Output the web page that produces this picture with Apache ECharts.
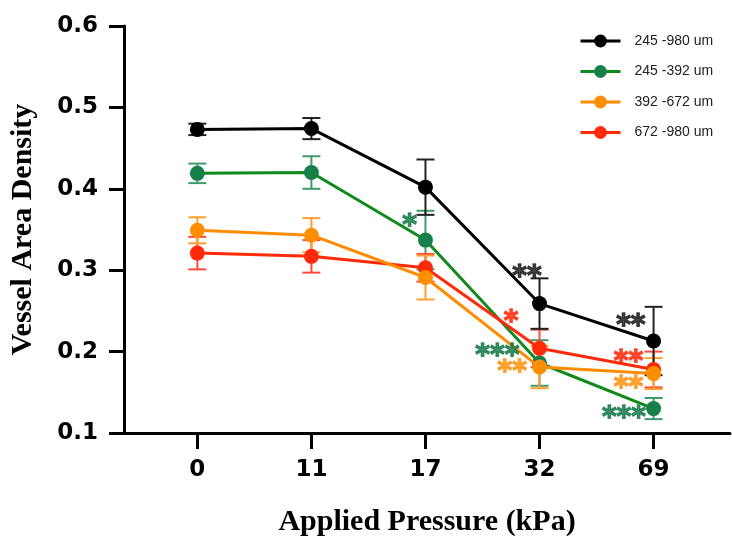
<!DOCTYPE html>
<html>
<head>
<meta charset="utf-8">
<script src="https://cdn.jsdelivr.net/npm/echarts@6/dist/echarts.min.js"></script>
<style>html,body{margin:0;padding:0;background:#fff}#c{width:732px;height:548px}</style>
</head>
<body>
<div id="c"></div>
<script>
const categories = ['0', '11', '17', '32', '69'];
const seriesNames = ['245 -980 um', '245 -392 um', '392 -672 um', '672 -980 um'];
const meanBlack  = [0.473, 0.474, 0.402, 0.259, 0.213];
const errBlack   = [0.007, 0.013, 0.034, 0.031, 0.042];
const meanGreen  = [0.419, 0.420, 0.337, 0.186, 0.130];
const errGreen   = [0.012, 0.020, 0.036, 0.028, 0.013];
const meanOrange = [0.349, 0.343, 0.291, 0.181, 0.173];
const errOrange  = [0.016, 0.021, 0.027, 0.026, 0.019];
const meanRed    = [0.321, 0.317, 0.303, 0.204, 0.178];
const errRed     = [0.020, 0.020, 0.017, 0.023, 0.022];
const yTicks = [0.1, 0.2, 0.3, 0.4, 0.5, 0.6];
// significance marks: [x position (category index units), y value, mark, group index]
const significance = [
  [1.86, 0.363, '*', 1],
  [2.89, 0.300, '**', 0],
  [2.75, 0.245, '*', 3],
  [2.63, 0.204, '***', 1],
  [2.76, 0.1835, '**', 2],
  [3.80, 0.240, '**', 0],
  [3.78, 0.196, '**', 3],
  [3.78, 0.164, '**', 2],
  [3.74, 0.127, '***', 1]
];

const lineColors = ['#000000', '#118a1c', '#ff8c00', '#ff2a0a'];
const markerColors = ['#000000', '#17804a', '#ff8f00', '#ff2a0a'];
const errColors = ['#222222', '#3f9a6c', '#ffa030', '#ff4a3a'];
const sigColors = ['#1a1a1a', '#16784a', '#ff9410', '#ff2a0a'];

const means = [meanBlack, meanGreen, meanOrange, meanRed];
const errs = [errBlack, errGreen, errOrange, errRed];

function errSeries(g) {
  return {
    type: 'custom',
    name: seriesNames[g] + ' err',
    silent: true,
    z: 1,
    data: means[g].map((m, i) => [i, m - errs[g][i], m + errs[g][i]]),
    encode: { x: 0, y: [1, 2] },
    renderItem: function (params, api) {
      const x = api.value(0);
      const lo = api.coord([x, api.value(1)]);
      const hi = api.coord([x, api.value(2)]);
      const hw = 9;
      const st = { stroke: errColors[g], lineWidth: 2 };
      return {
        type: 'group',
        children: [
          { type: 'line', shape: { x1: lo[0], y1: lo[1], x2: hi[0], y2: hi[1] }, style: st },
          { type: 'line', shape: { x1: lo[0] - hw, y1: lo[1], x2: lo[0] + hw, y2: lo[1] }, style: st },
          { type: 'line', shape: { x1: hi[0] - hw, y1: hi[1], x2: hi[0] + hw, y2: hi[1] }, style: st }
        ]
      };
    }
  };
}

function lineSeries(g, z) {
  return {
    type: 'line',
    name: seriesNames[g],
    z: z,
    data: means[g].map((m, i) => [i, m]),
    symbol: 'circle',
    symbolSize: 15,
    showSymbol: true,
    lineStyle: { color: lineColors[g], width: 3 },
    itemStyle: { color: markerColors[g] },
    emphasis: { disabled: true }
  };
}

const drawOrder = [1, 3, 2, 0];
const series = [];
drawOrder.forEach(g => series.push(errSeries(g)));
drawOrder.forEach((g, k) => series.push(lineSeries(g, 3 + k)));
series.push({
  type: 'scatter',
  name: 'significance',
  z: 10,
  silent: true,
  symbolSize: 0,
  itemStyle: { color: 'rgba(0,0,0,0)' },
  data: significance.map(s => ({
    value: [s[0], s[1]],
    label: {
      show: true,
      position: 'inside',
      formatter: s[2],
      color: sigColors[s[3]],
      textBorderColor: sigColors[s[3]],
      textBorderWidth: 1.4,
      fontFamily: 'DejaVu Sans',
      fontWeight: 'bold',
      fontSize: 28,
      offset: [0, 8]
    }
  }))
});

const chart = echarts.init(document.getElementById('c'), null, { renderer: 'canvas' });
chart.setOption({
  animation: false,
  backgroundColor: '#ffffff',
  grid: { left: 119, right: 2, top: 26, bottom: 115, containLabel: false },
  legend: {
    data: seriesNames,
    orient: 'vertical',
    left: 579,
    top: 34,
    padding: 0,
    itemWidth: 40,
    itemHeight: 16,
    itemGap: 16.5,
    lineStyle: { width: 3 },
    textStyle: {
      fontFamily: 'Liberation Sans',
      fontSize: 14,
      color: '#222',
      padding: [0, 0, 0, 9]
    }
  },
  xAxis: {
    type: 'value',
    min: -0.643,
    max: 4.67,
    name: 'Applied Pressure (kPa)',
    nameLocation: 'middle',
    nameGap: 74,
    nameTextStyle: { fontFamily: 'Liberation Serif', fontWeight: 'bold', fontSize: 30, color: '#000', verticalAlign: 'top' },
    splitLine: { show: false },
    axisLine: { show: true, onZero: false, lineStyle: { color: '#000', width: 3 } },
    axisTick: { show: true, length: 16, lineStyle: { color: '#000', width: 3 }, customValues: categories.map((c, i) => i) },
    axisLabel: {
      customValues: categories.map((c, i) => i),
      formatter: function (v) { return categories[Math.round(v)]; },
      margin: 26,
      fontFamily: 'DejaVu Sans',
      fontWeight: 'bold',
      fontSize: 23,
      color: '#000'
    }
  },
  yAxis: {
    type: 'value',
    min: 0.1,
    max: 0.6,
    interval: 0.1,
    name: 'Vessel Area Density',
    nameLocation: 'middle',
    nameGap: 86,
    nameTextStyle: { fontFamily: 'Liberation Serif', fontWeight: 'bold', fontSize: 30, color: '#000' },
    splitLine: { show: false },
    axisLine: { show: true, onZero: false, lineStyle: { color: '#000', width: 3 } },
    axisTick: { show: true, length: 15, lineStyle: { color: '#000', width: 3 } },
    axisLabel: {
      margin: 26,
      fontFamily: 'DejaVu Sans',
      fontWeight: 'bold',
      fontSize: 23,
      color: '#000',
      formatter: function (v) {
        const t = yTicks.find(tt => Math.abs(tt - v) < 1e-6);
        return t === undefined ? '' : t.toFixed(1);
      }
    }
  },
  series: series
});
</script>
</body>
</html>
